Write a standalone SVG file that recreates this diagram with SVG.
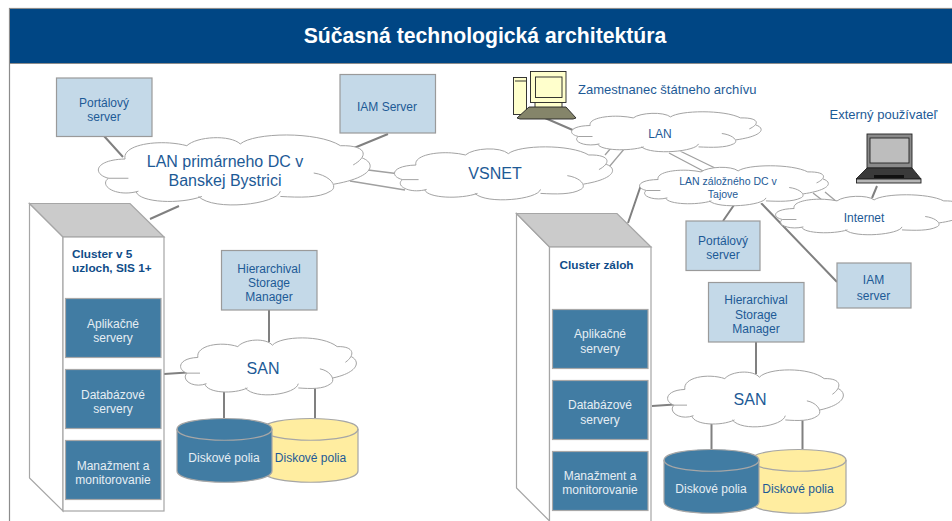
<svg xmlns="http://www.w3.org/2000/svg" width="952" height="521" viewBox="0 0 952 521">
<style>
text{font-family:"Liberation Sans",Arial,sans-serif;fill:#1d5a96;text-anchor:middle;font-size:12px}
.box{fill:#c4d9e8;stroke:#9a9a9a;stroke-width:1.2}
.dark{fill:#417ca3;stroke:#a8a8a8;stroke-width:1.2}
text.w{fill:#e6eef4}
text.big{font-size:16px}
text.b{font-weight:bold;font-size:11.8px;fill:#0f4c88;text-anchor:start}
text.s{font-size:10.5px}
text.l{text-anchor:start;font-size:13px}
.c{stroke:#808080;stroke-width:2;fill:none}
.t{stroke:#a0a0a0;stroke-width:1.3;fill:none}
.cf{fill:#fff;stroke:none}
.cs{fill:none;stroke:#a3a3a3;stroke-width:1;vector-effect:non-scaling-stroke}
.side{fill:#fff;stroke:#a6a6a6;stroke-width:1.2}
.top{fill:#cbcbcb;stroke:#a6a6a6;stroke-width:1.2}
.yel{fill:#ffeda0;stroke:#a6a6a6;stroke-width:1.2}
.blu{fill:#417ca3;stroke:#a6a6a6;stroke-width:1.2}
.arc{fill:none;stroke:#a6a6a6;stroke-width:1.2}
.k{stroke:#222;stroke-width:.9}
</style>
<defs>
<g id="cloud">
<path class="cf" d="M78,70C68,28 183,12 263,32C293,5 393,0 423,27C463,-6 653,-10 723,32C803,30 808,62 788,67C830,82 825,122 703,142C718,150 713,162 693,162C660,182 600,180 543,177C533,200 343,220 298,177C243,200 123,195 111,164C53,180 -2,147 28,125C-22,112 -12,72 78,70Z"/>
<path class="cs" d="M78,70C68,28 183,12 263,32C293,5 393,0 423,27C463,-6 653,-10 723,32C803,30 808,62 761,87M788,67C830,82 825,122 703,142M643,110C693,117 718,150 693,162C660,182 600,180 543,177M543,162C533,200 343,220 298,177M308,177C243,200 123,195 111,164M118,162C53,180 -2,147 28,125L88,125M28,125C-22,112 -12,72 78,70"/>
</g>
</defs>
<g id="frame">
<rect x="9.500" y="8.500" width="950" height="600" fill="#fff" stroke="#8c8c8c" stroke-width="1.2"/>
<rect x="10" y="9" width="942" height="54" fill="#004684"/>
<path d="M9.500,63.500H952" stroke="#8c8c8c" stroke-width="1.2"/>
<text x="485" y="43" font-weight="bold" style="fill:#fff;font-size:21.200px">Súčasná technologická architektúra</text>
</g>
<g id="connectors">
<path class="c" d="M104,136L123,157M388,134L354,148M179,206L150,219M545,118L575,131M877,186L872,198M641,185L628,223M734,205L723,221M761,203L837,282"/>
<path class="t" d="M368,170L400,174M350,181L405,190M611,148L605,155M625,148L609,167M669,153L705,172M680,151L715,168M813,193L822,200M825,192L837,202"/>
<path class="c" d="M269,310V342M224,388V418M315,388V418M164,374L195,372M756,342V374M711.500,420V449M802.500,419V449M652,406L682,404"/>
</g>
<g id="portal-l"><rect class="box" x="56.500" y="78" width="95.500" height="58.500"/><text x="104" y="107">Portálový</text><text x="104" y="121">server</text></g>
<g id="iam-l"><rect class="box" x="340" y="74.500" width="95.500" height="58.500"/><text x="387" y="111">IAM Server</text></g>
<g id="lan-primary"><use href="#cloud" transform="translate(99,134.500) scale(.334,.35)"/><text class="big" x="225" y="167">LAN primárneho DC v</text><text class="big" x="225" y="186">Banskej Bystrici</text></g>
<g id="vsnet"><use href="#cloud" transform="translate(395,146.500) scale(.268,.265)"/><text class="big" x="495" y="179">VSNET</text></g>
<g id="lan"><use href="#cloud" transform="translate(572,111.500) scale(.233,.2)"/><text x="660" y="138">LAN</text></g>
<g id="lan-backup"><use href="#cloud" transform="translate(640,165.500) scale(.232,.2)"/><text class="s" x="728" y="185">LAN záložného DC v</text><text class="s" x="723" y="198">Tajove</text></g>
<g id="internet"><use href="#cloud" transform="translate(776,194.500) scale(.232,.2)"/><text x="864" y="222">Internet</text></g>
<g id="employee">
<rect x="513.500" y="77.500" width="13" height="37" fill="#ffffcc" class="k"/><path class="k" d="M515,81H526"/>
<rect x="535" y="100" width="27" height="8" fill="#ffffcc" class="k"/>
<rect x="530.500" y="71.500" width="35.500" height="31" fill="#ffffcc" class="k"/><rect x="535.500" y="77" width="26.500" height="20.500" fill="#ffffcc" class="k"/>
<path d="M517,118L529,107H566L576,118L573,119H520Z" fill="#85856a" class="k"/>
<text class="l" x="578" y="93.500">Zamestnanec štátneho archívu</text></g>
<g id="external">
<rect x="867" y="134" width="45" height="34" fill="#8a8a8a" class="k"/><rect x="870" y="138" width="39" height="25" fill="#bdbdbd" class="k"/>
<path d="M856,179L867,168H912L921,179Z" fill="#3a3a3a" class="k"/><rect x="874" y="175" width="30" height="3" fill="#111"/>
<rect x="856.500" y="179" width="64.500" height="4" fill="#b5b5b5" class="k"/>
<text class="l" x="829.500" y="119">Externý používateľ</text></g>
<g id="portal-r"><rect class="box" x="686" y="221" width="74" height="49.500"/><text x="723" y="245">Portálový</text><text x="723" y="259">server</text></g>
<g id="iam-r"><rect class="box" x="837" y="263" width="74" height="45"/><text x="873.500" y="284">IAM</text><text x="873.500" y="300">server</text></g>
<g id="hsm-l"><rect class="box" x="221.500" y="250.500" width="95.500" height="59.500"/><text x="269" y="273">Hierarchival</text><text x="269" y="287">Storage</text><text x="269" y="301">Manager</text></g>
<g id="hsm-r"><rect class="box" x="708.500" y="282.500" width="95.500" height="59.500"/><text x="756" y="304">Hierarchival</text><text x="756" y="319">Storage</text><text x="756" y="333">Manager</text></g>
<g id="cluster-l">
<path class="side" d="M29.500,203.500V478L63,511V237Z"/><path class="top" d="M29.500,203.500H130L164,237H63Z"/><rect class="side" x="63" y="237" width="101" height="274"/>
<text class="b" x="72" y="258">Cluster v 5</text><text class="b" x="72" y="272">uzloch, SIS 1+</text>
<rect class="dark" x="65.500" y="298.500" width="95.500" height="59"/><text class="w" x="113" y="328">Aplikačné</text><text class="w" x="113" y="342">servery</text>
<rect class="dark" x="65.500" y="369.500" width="95.500" height="59"/><text class="w" x="113" y="399">Databázové</text><text class="w" x="113" y="413">servery</text>
<rect class="dark" x="65.500" y="440.500" width="95.500" height="59"/><text class="w" x="113" y="470">Manažment a</text><text class="w" x="113" y="484">monitorovanie</text>
</g>
<g id="cluster-r">
<path class="side" d="M516.500,213.500V488L549.500,521V247Z"/><path class="top" d="M516.500,213.500H617L651,247H549.500Z"/><rect class="side" x="549.500" y="247" width="101.500" height="290"/>
<text class="b" x="559.500" y="269">Cluster záloh</text>
<rect class="dark" x="552.500" y="309.500" width="95.500" height="59"/><text class="w" x="600" y="338">Aplikačné</text><text class="w" x="600" y="353">servery</text>
<rect class="dark" x="552.500" y="380.500" width="95.500" height="59"/><text class="w" x="600" y="409">Databázové</text><text class="w" x="600" y="424">servery</text>
<rect class="dark" x="552.500" y="451.500" width="95.500" height="59"/><text class="w" x="600" y="480">Manažment a</text><text class="w" x="600" y="494">monitorovanie</text>
</g>
<g id="san-l"><use href="#cloud" transform="translate(181,337.500) scale(.216,.285)"/><text class="big" x="263" y="374">SAN</text></g>
<g id="san-r"><use href="#cloud" transform="translate(668,369.500) scale(.216,.285)"/><text class="big" x="750" y="405">SAN</text></g>
<g id="disk-l">
<path class="yel" d="M263,429C263,415 358,415 358,429V471C358,486 263,486 263,471Z"/><path class="arc" d="M263,429C263,444 358,444 358,429"/>
<text x="310.500" y="462">Diskové polia</text>
<path class="blu" d="M177,429C177,415 272,415 272,429V471C272,486 177,486 177,471Z"/><path class="arc" d="M177,429C177,444 272,444 272,429"/>
<text class="w" x="224" y="462">Diskové polia</text></g>
<g id="disk-r">
<path class="yel" d="M751,460C751,446 846,446 846,460V502C846,517 751,517 751,502Z"/><path class="arc" d="M751,460C751,475 846,475 846,460"/>
<text x="798" y="493">Diskové polia</text>
<path class="blu" d="M664,460C664,446 759,446 759,460V502C759,517 664,517 664,502Z"/><path class="arc" d="M664,460C664,475 759,475 759,460"/>
<text class="w" x="711" y="493">Diskové polia</text></g>
</svg>
